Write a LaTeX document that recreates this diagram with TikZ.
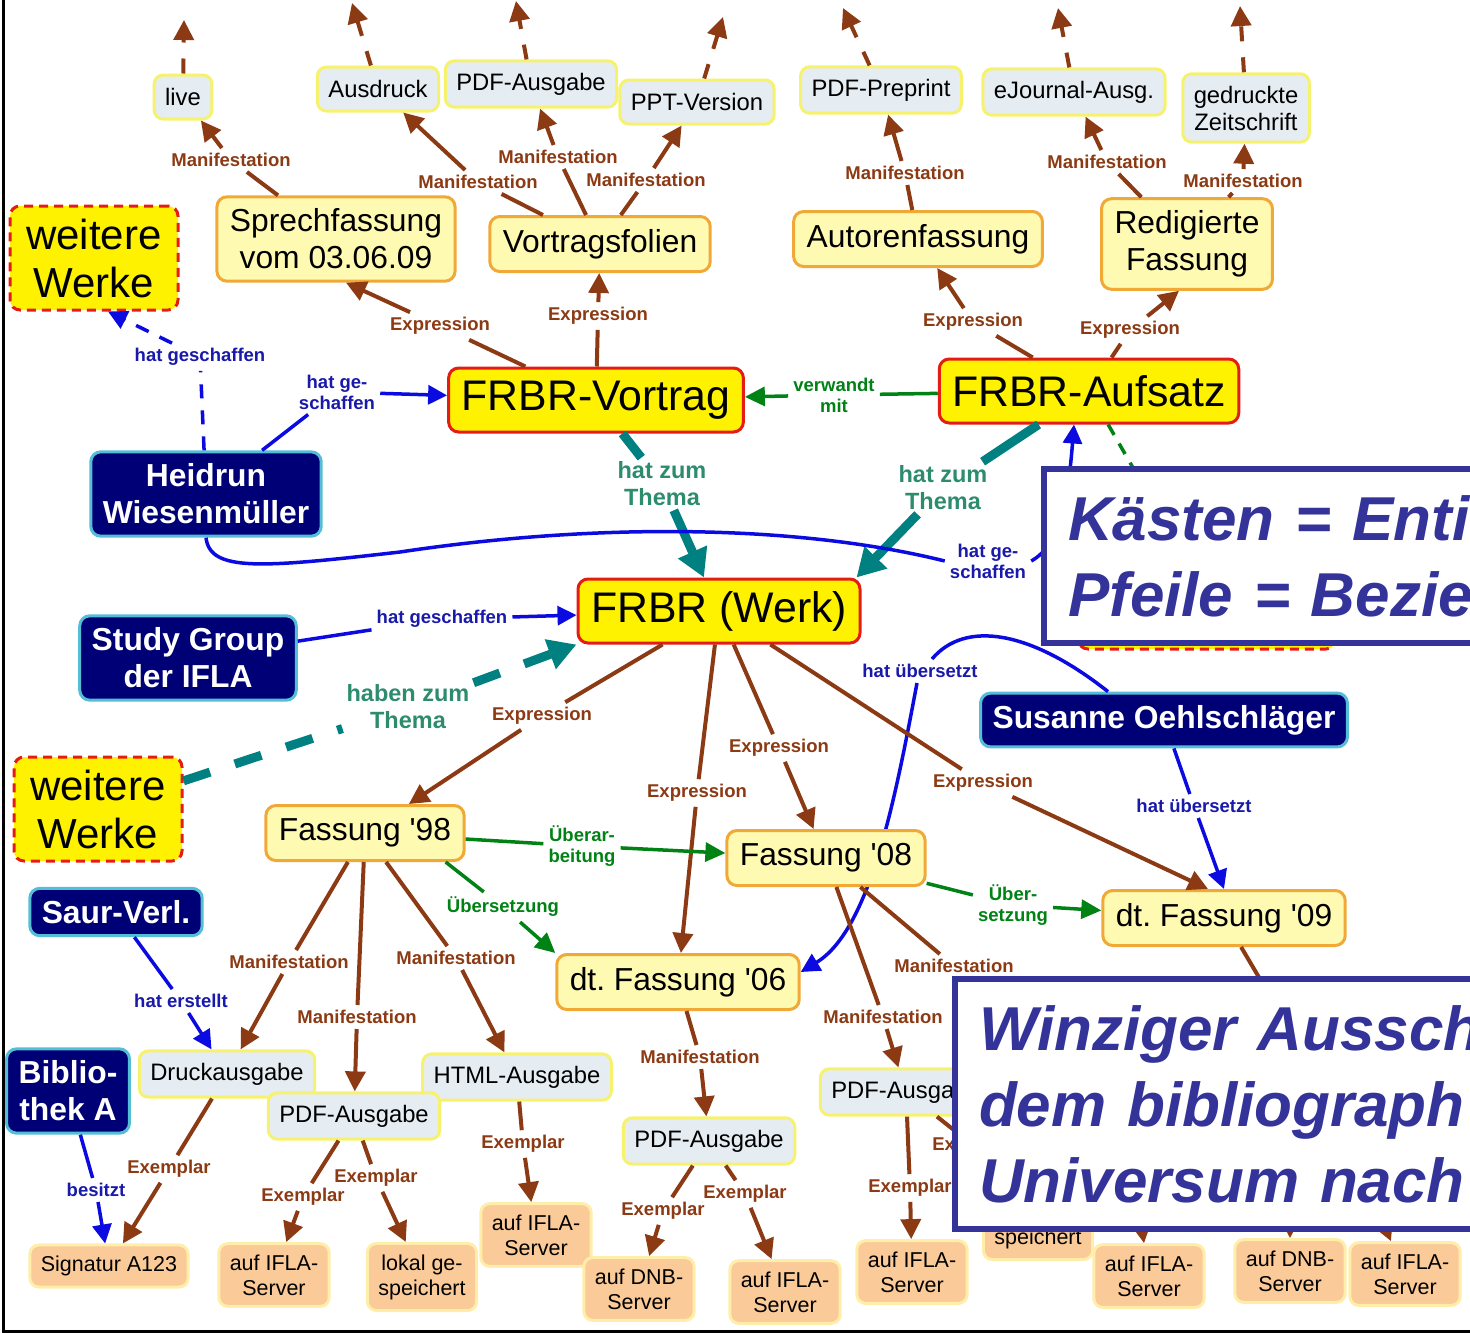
\documentclass[tikz,border=0pt]{standalone}
\usepackage{fontspec}
\setmainfont{Liberation Sans}
\usepackage{xcolor}
\usetikzlibrary{arrows.meta}
\frenchspacing

\definecolor{braun}{RGB}{140,58,20}
\definecolor{blau}{RGB}{10,10,225}
\definecolor{blautext}{RGB}{25,25,170}
\definecolor{gruen}{RGB}{0,130,20}
\definecolor{petrol}{RGB}{0,128,128}
\definecolor{petroltext}{RGB}{45,140,110}
\definecolor{graublau}{RGB}{230,237,242}
\definecolor{hellgelb}{RGB}{255,250,178}
\definecolor{orangerand}{RGB}{240,168,55}
\definecolor{gelbrand}{RGB}{246,242,110}
\definecolor{marine}{RGB}{0,0,118}
\definecolor{tuerkis}{RGB}{85,190,215}
\definecolor{lachs}{RGB}{250,202,152}
\definecolor{lachsrand}{RGB}{255,238,170}
\definecolor{rot}{RGB}{228,28,20}
\definecolor{legendenblau}{RGB}{51,51,153}

\pgfdeclarelayer{hinten}
\pgfsetlayers{hinten,main}

\tikzset{
  manif/.style={draw=gelbrand, fill=graublau, line width=3pt, rounded corners=9pt, inner xsep=11pt, inner ysep=12pt, minimum height=44pt, font=\fontsize{23.8}{27}\selectfont, align=center},
  fassung/.style={draw=orangerand, fill=hellgelb, line width=3pt, rounded corners=10pt, inner xsep=13pt, inner ysep=12pt, minimum height=55pt, font=\fontsize{31.8}{37}\selectfont, align=center},
  frbr/.style={draw=rot, fill=yellow, line width=3pt, rounded corners=10pt, inner xsep=13pt, minimum height=64pt, font=\fontsize{42.8}{48}\selectfont},
  weitere/.style={draw=rot, fill=yellow, line width=3pt, dash pattern=on 9pt off 6pt, rounded corners=10pt, minimum width=168pt, minimum height=104pt, font=\fontsize{42}{48}\selectfont, align=center},
  person/.style={draw=tuerkis, fill=marine, text=white, line width=3pt, rounded corners=10pt, inner xsep=12pt, inner ysep=12pt, font=\bfseries\fontsize{31.8}{37}\selectfont, align=center},
  exemplar/.style={draw=lachsrand, fill=lachs, line width=3pt, rounded corners=9pt, inner xsep=11pt, inner ysep=11pt, font=\fontsize{21.5}{25}\selectfont, align=center},
  rel/.style={inner sep=5pt, font=\bfseries\fontsize{18.5}{21}\selectfont, align=center},
  mlbl/.style={rel, text=braun},
  blbl/.style={rel, text=blautext},
  glbl/.style={rel, text=gruen},
  tlbl/.style={inner sep=4pt, font=\bfseries\fontsize{23.5}{27}\selectfont, align=center, text=petroltext},
  legende/.style={draw=legendenblau, fill=white, line width=6pt, inner xsep=24pt, text=legendenblau, font=\bfseries\itshape\fontsize{62}{76}\selectfont, align=left},
  braunlinie/.style={draw=braun, line width=4pt},
  braunpfeil/.style={braunlinie, -{Triangle[length=20pt,width=20pt]}},
  weiterpfeil/.style={braunpfeil, dash pattern=on 15pt off 16pt},
  blaulinie/.style={draw=blau, line width=3.5pt},
  blaupfeil/.style={blaulinie, -{Triangle[length=19pt,width=19pt]}},
  gruenlinie/.style={draw=gruen, line width=3.5pt},
  gruenpfeil/.style={gruenlinie, -{Triangle[length=20pt,width=19pt]}},
  themalinie/.style={draw=petrol, line width=9pt},
  themapfeil/.style={themalinie, -{Triangle[length=28pt,width=30pt]}}
}

\begin{document}
\begin{tikzpicture}[x=1pt,y=-1pt]
\useasboundingbox (0,0) rectangle (1470,1333);

\node[manif] at (183,97) (live) {live};
\node[manif] at (378,89) (ausdruck) {Ausdruck};
\node[manif] at (531,84) (pdfa) {PDF-Ausgabe};
\node[manif] at (697,102) (ppt) {PPT-Version};
\node[manif] at (881,90) (preprint) {PDF-Preprint};
\node[manif] at (1074,92) (ejournal) {eJournal-Ausg.};
\node[manif] at (1246,108) (gedruckt) {gedruckte\\Zeitschrift};

\node[fassung] at (336,239) (sprech) {Sprechfassung\\vom 03.06.09};
\node[fassung] at (600,244) (folien) {Vortragsfolien};
\node[fassung] at (918,239) (autoren) {Autorenfassung};
\node[fassung] at (1187,244) (redig) {Redigierte\\Fassung};

\node[frbr] at (596,400) (vortrag) {FRBR-Vortrag};
\node[frbr] at (1089,391) (aufsatz) {FRBR-Aufsatz};
\node[frbr] at (719,611) (werk) {FRBR (Werk)};

\node[weitere] at (94,258) (ww1) {weitere\\Werke};
\node[weitere] at (98,809) (ww2) {weitere\\Werke};
\node[weitere, minimum width=258pt] at (1207,597) (ww3) {};

\node[person] at (206,494) (hw) {Heidrun\\Wiesenmüller};
\node[person] at (188,658) (sg) {Study Group\\der IFLA};
\node[person] at (1164,720) (so) {Susanne Oehlschläger};
\node[person] at (116,912) (saur) {Saur-Verl.};
\node[person] at (68,1091) (bib) {Biblio-\\thek A};

\node[fassung] at (365,833) (f98) {Fassung \textquotesingle98};
\node[fassung] at (826,858) (f08) {Fassung \textquotesingle08};
\node[fassung] at (678,982) (f06) {dt. Fassung \textquotesingle06};
\node[fassung] at (1224,918) (f09) {dt. Fassung \textquotesingle09};

\node[manif] at (227,1074) (druck) {Druckausgabe};
\node[manif] at (517,1077) (html) {HTML-Ausgabe};
\node[manif] at (354,1116) (pdf98) {PDF-Ausgabe};
\node[manif] at (709,1141) (pdf06) {PDF-Ausgabe};
\node[manif] at (906,1092) (pdf08) {PDF-Ausgabe};

\node[exemplar] at (109,1266) (sig) {Signatur A123};
\node[exemplar] at (274,1275) (ifla1) {auf IFLA-\\Server};
\node[exemplar] at (422,1277) (lokal1) {lokal ge-\\speichert};
\node[exemplar] at (536,1235) (ifla2) {auf IFLA-\\Server};
\node[exemplar] at (639,1289) (dnb1) {auf DNB-\\Server};
\node[exemplar] at (785,1292) (ifla3) {auf IFLA-\\Server};
\node[exemplar] at (912,1272) (ifla4) {auf IFLA-\\Server};
\node[exemplar] at (1038,1226) (lokal2) {lokal ge-\\speichert};
\node[exemplar] at (1149,1276) (ifla5) {auf IFLA-\\Server};
\node[exemplar] at (1290,1271) (dnb2) {auf DNB-\\Server};
\node[exemplar] at (1405,1274) (ifla6) {auf IFLA-\\Server};

\coordinate (tlive) at (184,20);
\coordinate (tausd) at (352,3);
\coordinate (tpdfa) at (516,1);
\coordinate (tppt) at (723,17);
\coordinate (tprep) at (843,8);
\coordinate (tejour) at (1058,8);
\coordinate (tgedr) at (1240,6);
\coordinate (hid08) at (1010,1040);
\coordinate (hid09) at (1290,1030);
\coordinate (hin5) at (1130,1150);
\coordinate (hin6) at (1290,1150);
\coordinate (hin7) at (1352,1150);

\node[mlbl] at (231,160) (mlive) {Manifestation};
\node[mlbl] at (478,182) (mausd) {Manifestation};
\node[mlbl] at (558,157) (mpdfa) {Manifestation};
\node[mlbl] at (646,180) (mppt) {Manifestation};
\node[mlbl] at (905,173) (mprep) {Manifestation};
\node[mlbl] at (1107,162) (mejour) {Manifestation};
\node[mlbl] at (1243,181) (mgedr) {Manifestation};
\node[mlbl] at (440,326) (esprech) {Expression};
\node[mlbl] at (598,316) (efolien) {Expression};
\node[mlbl] at (973,322) (eautor) {Expression};
\node[mlbl] at (1130,330) (eredig) {Expression};
\node[glbl] at (834,395) (verw) {verwandt\\mit};
\node[blbl] at (200,357) (hgww) {hat geschaffen};
\node[blbl] at (337,392) (hgvort) {hat ge-\\schaffen};
\node[tlbl] at (662,484) (thvort) {hat zum\\Thema};
\node[tlbl] at (943,488) (thaufs) {hat zum\\Thema};
\node[blbl] at (988,561) (hgaufs) {hat ge-\\schaffen};
\node[blbl] at (442,619) (hgsg) {hat geschaffen};
\node[tlbl] at (408,707) (thww) {haben zum\\Thema};
\node[mlbl] at (542,716) (e98) {Expression};
\node[mlbl] at (697,793) (e06) {Expression};
\node[mlbl] at (779,748) (e08) {Expression};
\node[mlbl] at (983,783) (e09) {Expression};
\node[blbl] at (920,671) (hu06) {hat übersetzt};
\node[blbl] at (1194,806) (hu09) {hat übersetzt};
\node[glbl] at (582,846) (ueb08) {Überar-\\beitung};
\node[glbl] at (503,907) (ueb06) {Übersetzung};
\node[glbl] at (1013,905) (ueb09) {Über-\\setzung};
\node[mlbl] at (289,962) (mdruck) {Manifestation};
\node[mlbl] at (357,1017) (mpdf98) {Manifestation};
\node[mlbl] at (456,958) (mhtml) {Manifestation};
\node[blbl] at (181,1001) (herst) {hat erstellt};
\node[blbl] at (96,1190) (besitzt) {besitzt};
\node[mlbl] at (169,1169) (xsig) {Exemplar};
\node[mlbl] at (303,1197) (xifla1) {Exemplar};
\node[mlbl] at (376,1178) (xlokal1) {Exemplar};
\node[mlbl] at (523,1144) (xifla2) {Exemplar};
\node[mlbl] at (700,1057) (mpdf06) {Manifestation};
\node[mlbl] at (663,1211) (xdnb1) {Exemplar};
\node[mlbl] at (745,1194) (xifla3) {Exemplar};
\node[mlbl] at (883,1017) (mpdf08) {Manifestation};
\node[mlbl] at (954,966) (mhid08) {Manifestation};
\node[mlbl] at (910,1188) (xifla4) {Exemplar};
\node[mlbl] at (974,1146) (xlokal2) {Exemplar};

\draw[weiterpfeil] (live) -- (tlive);
\draw[weiterpfeil] (ausdruck) -- (tausd);
\draw[weiterpfeil] (pdfa) -- (tpdfa);
\draw[weiterpfeil] (ppt) -- (tppt);
\draw[weiterpfeil] (preprint) -- (tprep);
\draw[weiterpfeil] (ejournal) -- (tejour);
\draw[weiterpfeil] (gedruckt) -- (tgedr);

\draw[braunlinie] (sprech) -- (mlive);
\draw[braunpfeil] (mlive) -- (live);
\draw[braunlinie] (folien) -- (mausd);
\draw[braunpfeil] (mausd) -- (ausdruck);
\draw[braunlinie] (folien) -- (mpdfa);
\draw[braunpfeil] (mpdfa) -- (pdfa);
\draw[braunlinie] (folien) -- (mppt);
\draw[braunpfeil] (mppt) -- (ppt);
\draw[braunlinie] (autoren) -- (mprep);
\draw[braunpfeil] (mprep) -- (preprint);
\draw[braunlinie] (redig) -- (mejour);
\draw[braunpfeil] (mejour) -- (ejournal);
\draw[braunlinie] (redig) -- (mgedr);
\draw[braunpfeil] (mgedr) -- (gedruckt);

\draw[braunlinie] (vortrag) -- (esprech);
\draw[braunpfeil] (esprech) -- ([xshift=10pt]sprech.south);
\draw[braunlinie] (vortrag) -- (efolien);
\draw[braunpfeil] (efolien) -- (folien);
\draw[braunlinie] (aufsatz) -- (eautor);
\draw[braunpfeil] (eautor) -- (autoren);
\draw[braunlinie] (aufsatz) -- (eredig);
\draw[braunpfeil] (eredig) -- ([xshift=-8pt]redig.south);

\draw[gruenlinie] (aufsatz) -- (verw);
\draw[gruenpfeil] (verw) -- (vortrag);
\draw[gruenlinie, dash pattern=on 12pt off 10pt] (aufsatz) -- (ww3);

\draw[blaulinie, dash pattern=on 14pt off 12pt] (hw) -- (hgww);
\draw[blaupfeil, dash pattern=on 14pt off 12pt] (hgww) -- ([xshift=14pt]ww1.south);
\draw[blaulinie] (hw) -- (hgvort);
\draw[blaupfeil] (hgvort) -- (vortrag);

\draw[themalinie] (vortrag) -- (thvort);
\draw[themapfeil] (thvort) -- (werk);
\draw[themalinie] (aufsatz) -- (thaufs);
\draw[themapfeil] (thaufs) -- ([xshift=-5pt]werk.north east);

\draw[blaulinie] (hw.south) .. controls (210,572) and (260,568) .. (400,552) .. controls (600,522) and (800,525) .. (hgaufs.west);
\draw[blaupfeil] (hgaufs.east) .. controls (1060,545) and (1068,500) .. ([xshift=-15pt]aufsatz.south);

\draw[blaulinie] (sg) -- (hgsg);
\draw[blaupfeil] (hgsg) -- (werk);
\draw[themalinie, dash pattern=on 28pt off 26pt] (ww2) -- (thww);
\draw[themapfeil, dash pattern=on 28pt off 26pt] (thww) -- (werk.south west);

\draw[braunlinie] (werk) -- (e98);
\draw[braunpfeil] (e98) -- (f98);
\draw[braunlinie] (werk) -- (e06);
\draw[braunpfeil] (e06) -- (f06);
\draw[braunlinie] (werk) -- (e08);
\draw[braunpfeil] (e08) -- (f08);
\draw[braunlinie] (werk) -- (e09);
\draw[braunpfeil] (e09) -- ([xshift=-16pt]f09.north);

\draw[blaulinie] ([xshift=-56pt]so.north) .. controls (1030,630) and (965,620) .. ([xshift=12pt]hu06.north);
\begin{pgfonlayer}{hinten}
\draw[blaupfeil] ([xshift=-3pt]hu06.south) .. controls (895,800) and (870,930) .. ([yshift=10pt]f06.east);
\end{pgfonlayer}
\draw[blaulinie] (so) -- (hu09);
\draw[blaupfeil] (hu09) -- (f09.north);

\draw[gruenlinie] (f98) -- (ueb08);
\draw[gruenpfeil] (ueb08) -- (f08);
\draw[gruenlinie] ([xshift=-20pt]f98.south east) -- (ueb06);
\draw[gruenpfeil] (ueb06) -- (f06.north west);
\draw[gruenlinie] (f08) -- (ueb09);
\draw[gruenpfeil] (ueb09) -- (f09);

\draw[braunlinie] (f98) -- (mdruck);
\draw[braunpfeil] (mdruck) -- (druck);
\draw[braunlinie] (f98) -- (mpdf98);
\draw[braunpfeil] (mpdf98) -- (pdf98);
\draw[braunlinie] (f98) -- (mhtml);
\draw[braunpfeil] (mhtml) -- (html);

\draw[blaulinie] (saur) -- (herst);
\draw[blaupfeil] (herst) -- (druck);
\draw[blaulinie] (bib) -- (besitzt);
\draw[blaupfeil] (besitzt) -- (sig);

\draw[braunlinie] (druck) -- (xsig);
\draw[braunpfeil] (xsig) -- (sig);
\draw[braunlinie] (pdf98) -- (xifla1);
\draw[braunpfeil] (xifla1) -- (ifla1);
\draw[braunlinie] (pdf98) -- (xlokal1);
\draw[braunpfeil] (xlokal1) -- (lokal1);
\draw[braunlinie] (html) -- (xifla2);
\draw[braunpfeil] (xifla2) -- (ifla2);

\draw[braunlinie] (f06) -- (mpdf06);
\draw[braunpfeil] (mpdf06) -- (pdf06);
\draw[braunlinie] (pdf06) -- (xdnb1);
\draw[braunpfeil] (xdnb1) -- (dnb1);
\draw[braunlinie] (pdf06) -- (xifla3);
\draw[braunpfeil] (xifla3) -- (ifla3);

\draw[braunlinie] (f08) -- (mpdf08);
\draw[braunpfeil] (mpdf08) -- (pdf08);
\draw[braunlinie] (f08) -- (mhid08);
\draw[braunlinie] (mhid08) -- (hid08);
\draw[braunlinie] (pdf08) -- (xifla4);
\draw[braunpfeil] (xifla4) -- (ifla4);
\draw[braunlinie] (pdf08) -- (xlokal2);
\draw[braunpfeil] (xlokal2) -- (lokal2);
\draw[braunlinie] (f09) -- (hid09);
\draw[braunpfeil] (hin5) -- (ifla5);
\draw[braunpfeil] (hin6) -- (dnb2);
\draw[braunpfeil] (hin7) -- (ifla6);

\node[legende, anchor=north west, text width=472pt, minimum height=174pt] at (1041,466) (leg1) {Kästen = Enti\\Pfeile = Bezie};
\node[legende, anchor=north west, text width=552pt, minimum height=250pt] at (952,976) (leg2) {Winziger Aussch\\dem bibliograph\\Universum nach};

\draw[line width=3pt] (3,-5) -- (3,1331) -- (1475,1331);
\end{tikzpicture}
\end{document}
